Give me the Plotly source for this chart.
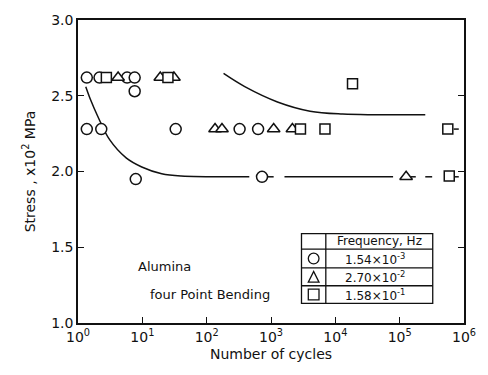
import plotly.graph_objects as go

# ---- data ----
circle_x = [1.37, 2.16, 5.8, 7.6, 7.6, 1.37, 2.3, 33, 325, 630, 7.9, 725]
circle_y = [2.62, 2.62, 2.62, 2.62, 2.53, 2.28, 2.28, 2.28, 2.28, 2.28, 1.95, 1.965]

tri_x = [4.2, 19, 31, 135, 173, 1100, 2150, 1.26e5]
tri_y = [2.62, 2.62, 2.62, 2.28, 2.28, 2.28, 2.28, 1.965]

sq_x = [2.76, 25, 2870, 6900, 1.85e4, 5.6e5, 5.9e5]
sq_y = [2.62, 2.62, 2.28, 2.28, 2.58, 2.28, 1.97]

# hand-drawn trend curves
upper_curve_x = [183, 391, 1260, 4050, 1.3e4, 4.17e4, 2.5e5]
upper_curve_y = [2.647, 2.56, 2.459, 2.398, 2.379, 2.375, 2.375]

lower_curve_x = [1.32, 1.58, 2.0, 3.1, 5.6, 9.8, 20, 40, 460]
lower_curve_y = [2.56, 2.47, 2.37, 2.21, 2.09, 2.03, 1.985, 1.97, 1.965]

# broken continuation of the lower curve
lower_dash_x = [890, 1100, None, 1620, 7.9e4, None, 1.5e5, 1.78e5, None, 2.5e5, 3.2e5, None, 6.9e5, 8.3e5]
lower_dash_y = [1.965, 1.965, None, 1.965, 1.965, None, 1.965, 1.965, None, 1.965, 1.965, None, 1.965, 1.965]
upper_stub_x = [6.9e5, 8.3e5]
upper_stub_y = [2.28, 2.28]

x_tickvals = [1, 10, 100, 1e3, 1e4, 1e5, 1e6]
x_ticktext = ["10<sup>0</sup>", "10<sup>1</sup>", "10<sup>2</sup>", "10<sup>3</sup>",
              "10<sup>4</sup>", "10<sup>5</sup>", "10<sup>6</sup>"]
y_tickvals = [1.0, 1.5, 2.0, 2.5, 3.0]
y_ticktext = ["1.0", "1.5", "2.0", "2.5", "3.0"]

legend_title = "Frequency, Hz"
legend_labels = ["1.54\u00d710<sup>-3</sup>", "2.70\u00d710<sup>-2</sup>", "1.58\u00d710<sup>-1</sup>"]

FONT = "DejaVu Sans"
BLACK = "#111111"

fig = go.Figure()
line_style = dict(color=BLACK, width=1.5)
fig.add_trace(go.Scatter(x=upper_curve_x, y=upper_curve_y, mode="lines",
                         line=dict(shape="spline", **line_style), hoverinfo="skip"))
fig.add_trace(go.Scatter(x=lower_curve_x, y=lower_curve_y, mode="lines",
                         line=dict(shape="spline", **line_style), hoverinfo="skip"))
fig.add_trace(go.Scatter(x=lower_dash_x, y=lower_dash_y, mode="lines",
                         line=line_style, hoverinfo="skip"))
fig.add_trace(go.Scatter(x=upper_stub_x, y=upper_stub_y, mode="lines",
                         line=line_style, hoverinfo="skip"))

mk = dict(color="white", size=11, line=dict(color=BLACK, width=1.5))
fig.add_trace(go.Scatter(x=circle_x, y=circle_y, mode="markers",
                         marker=dict(symbol="circle", **mk)))
fig.add_trace(go.Scatter(x=tri_x, y=tri_y, mode="markers",
                         marker=dict(symbol="triangle-up", **mk)))
fig.add_trace(go.Scatter(x=sq_x, y=sq_y, mode="markers",
                         marker=dict(symbol="square", **dict(mk, size=10))))

# ---- legend table (paper coordinates) ----
x0, xd, x1 = 0.579, 0.642, 0.919
ytop, r1, r2, r3, ybot = 0.295, 0.2435, 0.182, 0.123, 0.065
shapes = []
lw = dict(color=BLACK, width=1.3)
shapes.append(dict(type="rect", xref="paper", yref="paper", x0=x0, x1=x1, y0=ybot, y1=ytop,
                   line=lw, fillcolor="white", layer="above"))
shapes.append(dict(type="line", xref="paper", yref="paper", x0=xd, x1=xd, y0=ybot, y1=ytop, line=lw))
for yy in (r1, r2, r3):
    shapes.append(dict(type="line", xref="paper", yref="paper", x0=x0, x1=x1, y0=yy, y1=yy, line=lw))

cx = (x0 + xd) / 2
pw, ph = 397.0, 308.0
s = 5.5
rows_c = [(r1 + r2) / 2, (r2 + r3) / 2, (r3 + ybot) / 2]
shapes.append(dict(type="circle", xref="paper", yref="paper",
                   x0=cx - s / pw, x1=cx + s / pw, y0=rows_c[0] - s / ph, y1=rows_c[0] + s / ph,
                   line=lw))
ty = rows_c[1]
shapes.append(dict(type="path", xref="paper", yref="paper",
                   path=f"M {cx - s / pw} {ty - s / ph} L {cx + s / pw} {ty - s / ph} L {cx} {ty + s / ph} Z",
                   line=lw))
sy = rows_c[2]
shapes.append(dict(type="rect", xref="paper", yref="paper",
                   x0=cx - s / pw, x1=cx + s / pw, y0=sy - s / ph, y1=sy + s / ph, line=lw))

annotations = []
tx = (xd + x1) / 2
tf = dict(family=FONT, size=12, color=BLACK)
annotations.append(dict(text=legend_title, xref="paper", yref="paper", x=tx, y=(ytop + r1) / 2,
                        showarrow=False, font=tf, xanchor="center", yanchor="middle"))
for lab, yc in zip(legend_labels, rows_c):
    annotations.append(dict(text=lab, xref="paper", yref="paper", x=tx - 0.01, y=yc,
                            showarrow=False, font=tf, xanchor="center", yanchor="middle"))
bf = dict(family=FONT, size=13, color=BLACK)
annotations.append(dict(text="Alumina", xref="paper", yref="paper", x=0.151, y=0.185,
                        showarrow=False, font=bf, xanchor="left", yanchor="middle"))
annotations.append(dict(text="four Point Bending", xref="paper", yref="paper", x=0.181, y=0.094,
                        showarrow=False, font=bf, xanchor="left", yanchor="middle"))

af = dict(family=FONT, size=14, color=BLACK)
fig.update_layout(
    width=488, height=375,
    margin=dict(l=78, r=13, t=15, b=52),
    paper_bgcolor="white", plot_bgcolor="white",
    showlegend=False,
    font=af,
    shapes=shapes, annotations=annotations,
    xaxis=dict(type="log", range=[0, 6], tickvals=x_tickvals, ticktext=x_ticktext,
               ticks="inside", ticklen=6, tickwidth=1.3, tickcolor=BLACK,
               showline=True, linecolor=BLACK, linewidth=1.5, mirror=True,
               showgrid=False, zeroline=False,
               title=dict(text="Number of cycles", font=af, standoff=6),
               tickfont=af),
    yaxis=dict(range=[1, 3], tickvals=y_tickvals, ticktext=y_ticktext,
               ticks="inside", ticklen=6, tickwidth=1.3, tickcolor=BLACK,
               showline=True, linecolor=BLACK, linewidth=1.5, mirror="ticks",
               showgrid=False, zeroline=False,
               title=dict(text="Stress , x10<sup>2</sup> MPa", font=af, standoff=12),
               tickfont=af),
)

fig.write_html("out.html")
